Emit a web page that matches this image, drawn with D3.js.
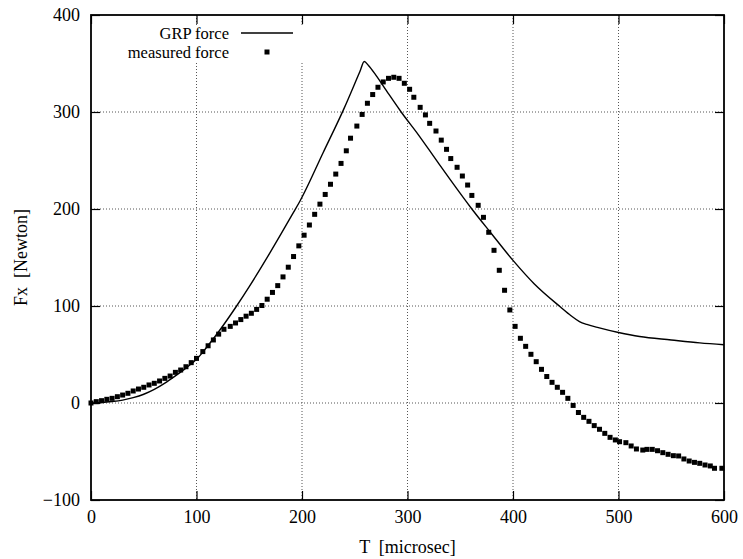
<!DOCTYPE html>
<html>
<head>
<meta charset="utf-8">
<script src="https://cdn.jsdelivr.net/npm/d3@7"></script>
<style>
body { margin: 0; background: #fff; }
text { font-family: "Liberation Serif", "DejaVu Serif", serif; font-size: 18px; fill: #000; white-space: pre; }
.key text { font-size: 16.5px; }
.grid line { stroke: #555; stroke-width: 1; stroke-dasharray: 1,2; }
</style>
</head>
<body>
<svg id="chart" width="743" height="559"></svg>
<script>
// GRP force (solid line)
var grpT = [0, 10, 20, 30, 40, 50, 60, 70, 80, 90, 100, 110, 122, 138, 150, 160, 170, 180, 190, 198,
  220, 240, 255, 259, 263, 270, 280, 294, 310, 325, 340, 361, 380, 400, 420, 445, 455, 463, 470, 480, 500, 520, 550, 577, 600];
var grpF = [0, 0.5, 1.5, 3, 5.5, 9, 14, 20.5, 28, 36, 45, 58, 75, 100, 120, 137.5, 155.5, 174, 193, 208,
  258, 304, 342, 352, 348, 338, 322, 300, 277, 254, 231, 200, 174, 147, 123, 99, 90, 84, 81, 78, 72.7, 68.5, 65, 62, 60];

// measured force (square points)
var measT = [0, 5, 10, 15, 20, 25, 30, 35, 40, 45, 50, 55, 60, 65, 70, 75, 80, 85, 90, 95, 100,
  106, 111, 116, 121, 126, 132, 137, 142, 147, 152, 157, 162, 167, 172, 177, 182, 187, 192, 197,
  202, 207, 212, 217, 222, 227, 232, 237, 242, 246, 252, 257, 262, 267, 272, 277, 282, 287, 292, 297,
  302, 306, 312, 317, 321, 327, 332, 337, 341, 347, 352, 357, 361, 367, 372, 377, 382, 387, 392, 397,
  402, 407, 412, 417, 422, 427, 432, 437, 442, 447, 452, 457, 462, 467, 472, 477, 482, 487, 492, 497,
  501, 507, 512, 517, 523, 527, 532, 537, 542, 547, 552, 557, 562, 567, 572, 577, 582, 587, 591, 598];
var measF = [0, 1.4, 2.4, 3.8, 4.8, 6.5, 8.2, 10, 12.4, 14.4, 16.2, 18.6, 20.3, 22.7, 25.4, 27.8, 31.6, 34, 37.4, 41.6, 46,
  53, 59, 65, 71, 76, 79, 82.5, 86, 89.5, 92.5, 96.5, 100.5, 107, 114, 121, 130, 140, 151, 162,
  173, 183.5, 194.5, 205, 215, 225.5, 236, 247, 260, 273, 285.5, 297.5, 309, 318, 325.5, 331, 334.7, 335.8, 334.7, 329.6,
  323.4, 315.2, 304.8, 297, 288.3, 280.4, 271, 261.5, 252, 243, 234, 224.7, 214, 203.8, 191.4, 176, 157.4, 136.8, 116.2, 95.9,
  79, 66.7, 58.4, 50.2, 42.6, 34.7, 27.3, 21.3, 16.2, 11, 4.8, -2.5, -9.8, -14.8, -18.9, -23.3, -27.1, -31.3, -35.4, -38.1,
  -39.9, -40.9, -44.3, -47.4, -48.5, -47.8, -47.8, -49.2, -51.2, -52.9, -54.3, -54.6, -57.7, -59.8, -61.2, -62.2, -63.9, -64.9, -67.3, -67.3];

var xTicks = [0, 100, 200, 300, 400, 500, 600];
var yTicks = [-100, 0, 100, 200, 300, 400];
var legendLabels = ["GRP force", "measured force"];

var padL = 91, padR = 724, padT = 15, padB = 500, tickLen = 9;

var svg = d3.select('#chart');
var x = d3.scaleLinear().domain([0, 600]).range([padL, padR]);
var y = d3.scaleLinear().domain([-100, 400]).range([padB, padT]);

// grid
var grid = svg.append('g').attr('class', 'grid');
grid.selectAll('.gx').data(xTicks.slice(1, -1)).enter().append('line')
  .attr('x1', d => x(d)).attr('x2', d => x(d)).attr('y1', padT).attr('y2', padB);
grid.selectAll('.gy').data(yTicks.slice(1, -1)).enter().append('line')
  .attr('x1', padL).attr('x2', padR).attr('y1', d => y(d)).attr('y2', d => y(d));

// key background hides the grid behind it
svg.append('rect').attr('x', 110).attr('y', 25).attr('width', 197).attr('height', 37).attr('fill', '#fff');

// axes, ticks pointing inward on all four sides
svg.append('g').attr('transform', 'translate(0,' + padB + ')')
  .call(d3.axisBottom(x).tickValues(xTicks).tickSize(-tickLen).tickPadding(10));
svg.append('g').attr('transform', 'translate(0,' + padT + ')')
  .call(d3.axisTop(x).tickValues(xTicks).tickSize(-tickLen).tickFormat(''));
svg.append('g').attr('transform', 'translate(' + padL + ',0)')
  .call(d3.axisLeft(y).tickValues(yTicks).tickSize(-tickLen).tickPadding(11));
svg.append('g').attr('transform', 'translate(' + padR + ',0)')
  .call(d3.axisRight(y).tickValues(yTicks).tickSize(-tickLen).tickFormat(''));
svg.selectAll('.domain').remove();
svg.selectAll('.tick line').attr('stroke', '#000').attr('stroke-width', 1.2);
svg.selectAll('.tick text').attr('font-family', null).attr('font-size', null).attr('fill', '#000');

svg.append('rect').attr('x', padL).attr('y', padT).attr('width', padR - padL).attr('height', padB - padT)
  .attr('fill', 'none').attr('stroke', '#000').attr('stroke-width', 1.8);

// GRP line
var line = d3.line().x((d, i) => x(grpT[i])).y(d => y(d)).curve(d3.curveMonotoneX);
svg.append('path').attr('d', line(grpF)).attr('fill', 'none').attr('stroke', '#000').attr('stroke-width', 1.4);

// measured points
svg.append('g').selectAll('rect').data(measF).enter().append('rect')
  .attr('x', (d, i) => x(measT[i]) - 2.5).attr('y', d => y(d) - 2.5)
  .attr('width', 5).attr('height', 5).attr('fill', '#000');

// key
var key = svg.append('g').attr('class', 'key');
key.append('text').attr('x', 229).attr('y', 39).attr('text-anchor', 'end').text(legendLabels[0]);
key.append('line').attr('x1', 241).attr('x2', 293).attr('y1', 33).attr('y2', 33).attr('stroke', '#000').attr('stroke-width', 1.4);
key.append('text').attr('x', 229).attr('y', 58).attr('text-anchor', 'end').text(legendLabels[1]);
key.append('rect').attr('x', 264.5).attr('y', 49.5).attr('width', 5).attr('height', 5).attr('fill', '#000');

// axis titles
svg.append('text').attr('x', (padL + padR) / 2).attr('y', 553).attr('text-anchor', 'middle').text('T  [microsec]');
svg.append('text').attr('transform', 'translate(27,' + (padT + padB) / 2 + ') rotate(-90)')
  .attr('text-anchor', 'middle').text('Fx  [Newton]');
</script>
</body>
</html>
